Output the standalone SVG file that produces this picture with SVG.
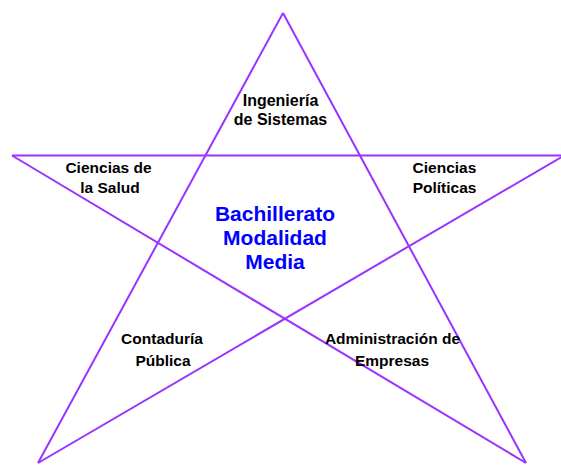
<svg xmlns="http://www.w3.org/2000/svg" width="561" height="465" viewBox="0 0 561 465">
<style>
.edge{stroke:#9933FF;stroke-width:2;fill:none}
.lbl{font-family:"Liberation Sans",Arial,sans-serif;font-weight:bold;font-size:15.5px;fill:#000;text-anchor:middle}
.big{font-size:16px}
.ctr{font-family:"Liberation Sans",Arial,sans-serif;font-weight:bold;font-size:21px;fill:#0000FF;text-anchor:middle}
</style>
<rect width="561" height="465" fill="#fff"/>
<g id="connectors">
<line class="edge" x1="283" y1="13" x2="38" y2="463"/>
<line class="edge" x1="283" y1="13" x2="526" y2="463"/>
<line class="edge" x1="12" y1="155.5" x2="565" y2="155.5"/>
<line class="edge" x1="12" y1="155.5" x2="526" y2="463"/>
<line class="edge" x1="565" y1="155" x2="38" y2="463"/>
</g>
<g id="ingenieria"><text class="lbl big" x="280.5" y="106">Ingeniería</text><text class="lbl big" x="280.5" y="125">de Sistemas</text></g>
<g id="salud"><text class="lbl" x="108.5" y="173">Ciencias de</text><text class="lbl" x="110" y="193">la Salud</text></g>
<g id="politicas"><text class="lbl" x="444.5" y="173">Ciencias</text><text class="lbl" x="444.5" y="193">Políticas</text></g>
<g id="bachillerato"><text class="ctr" x="275" y="221">Bachillerato</text><text class="ctr" x="275" y="245">Modalidad</text><text class="ctr" x="275" y="269">Media</text></g>
<g id="contaduria"><text class="lbl" x="162" y="344">Contaduría</text><text class="lbl" x="163" y="366">Pública</text></g>
<g id="administracion"><text class="lbl" x="392.5" y="344">Administración de</text><text class="lbl" x="392" y="366">Empresas</text></g>
</svg>
